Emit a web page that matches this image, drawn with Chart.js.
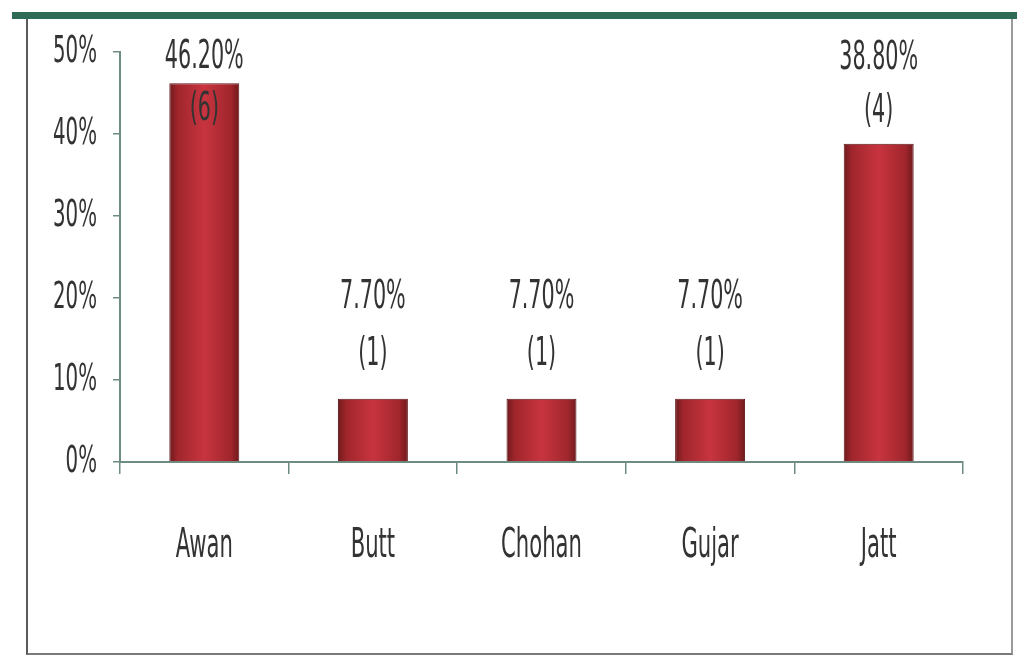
<!DOCTYPE html>
<html>
<head>
<meta charset="utf-8">
<script src="https://cdn.jsdelivr.net/npm/chart.js@4.4.0/dist/chart.umd.min.js"></script>
<style>
  html, body { margin: 0; padding: 0; background: #fff; }
  #wrap { position: relative; width: 1017px; height: 657px; overflow: hidden; background: #fff; }
  #topbar { position: absolute; left: 12px; top: 12px; width: 1005px; height: 7px; background: #2f6a55; }
  #frame { position: absolute; left: 26px; top: 19px; width: 983px; height: 634px;
           border-left: 2px solid #5a5a5a; border-bottom: 2px solid #7a7a7a; border-right: 2px solid #9a9a9a; }
  canvas { position: absolute; left: 0; top: 0; }
</style>
</head>
<body>
<div id="wrap">
  <div id="topbar"></div>
  <div id="frame"></div>
  <canvas id="c" width="1017" height="657"></canvas>
</div>
<script>
const categories = ["Awan", "Butt", "Chohan", "Gujar", "Jatt"];
const percentValues = [46.2, 7.7, 7.7, 7.7, 38.8];
const counts = [6, 1, 1, 1, 4];
const percentLabels = ["46.20%", "7.70%", "7.70%", "7.70%", "38.80%"];
const yTicks = [0, 10, 20, 30, 40, 50];

const TEXT = "#333333";
const AXIS = "#6e8c82";
const FONT = "'Liberation Sans Narrow', 'DejaVu Sans Condensed', 'Liberation Sans', sans-serif";
const STRETCH = 1.7;

const canvas = document.getElementById('c');
const ctx2d = canvas.getContext('2d');
// vertically stretch all text (reference uses tall condensed glyphs)
const origFill = ctx2d.fillText.bind(ctx2d);
ctx2d.fillText = function (t, x, y, mw) {
  this.save();
  this.translate(x, y);
  this.scale(1, STRETCH);
  if (mw === undefined) origFill(t, 0, 0); else origFill(t, 0, 0, mw);
  this.restore();
};

const BAR_PCT = 0.415;

function barGradient(context) {
  const chart = context.chart;
  const xs = chart.scales.x;
  if (!xs || !chart.chartArea) return '#c0303a';
  const cx = xs.getPixelForValue(context.dataIndex);
  const w = (xs.width / categories.length) * BAR_PCT;
  const g = chart.ctx.createLinearGradient(cx - w / 2, 0, cx + w / 2, 0);
  g.addColorStop(0, '#6e1a1c');
  g.addColorStop(0.12, '#a0262c');
  g.addColorStop(0.5, '#c8343f');
  g.addColorStop(0.88, '#a0262c');
  g.addColorStop(1, '#6e1a1c');
  return g;
}

// label offsets (px above bar top): [percent, count]
const labelStyle = {
  offsets: [[25, -27], [101, 44], [101, 44], [101, 44], [85, 32]]
};

const labelPlugin = {
  id: 'barLabels',
  afterDatasetsDraw(chart) {
    const ctx = chart.ctx;
    const meta = chart.getDatasetMeta(0);
    ctx.save();
    ctx.fillStyle = TEXT;
    ctx.font = "23px " + FONT;
    ctx.textAlign = 'center';
    ctx.textBaseline = 'middle';
    meta.data.forEach((bar, i) => {
      const off = labelStyle.offsets[i];
      ctx.fillText(percentLabels[i], bar.x, bar.y - off[0]);
      ctx.fillText('(' + counts[i] + ')', bar.x, bar.y - off[1]);
    });
    ctx.restore();
  }
};

new Chart(canvas, {
  type: 'bar',
  data: {
    labels: categories,
    datasets: [{
      data: percentValues,
      backgroundColor: barGradient,
      borderColor: '#5e1618',
      borderWidth: 1,
      barPercentage: BAR_PCT,
      categoryPercentage: 1.0
    }]
  },
  options: {
    responsive: false,
    animation: false,
    devicePixelRatio: 1,
    layout: { padding: { top: 52, right: 54, left: 0, bottom: 0 } },
    plugins: { legend: { display: false }, tooltip: { enabled: false } },
    scales: {
      x: {
        offset: true,
        grid: { display: true, offset: true, drawOnChartArea: false, drawTicks: true,
                tickLength: 12, color: AXIS, lineWidth: 1.5 },
        border: { display: true, color: AXIS, width: 2 },
        ticks: { color: TEXT, font: { family: FONT, size: 23.5 }, padding: 59 },
        afterFit(scale) { scale.height = 195; }
      },
      y: {
        min: 0, max: 50,
        afterBuildTicks(scale) { scale.ticks = yTicks.map(v => ({ value: v })); },
        grid: { display: true, drawOnChartArea: false, drawTicks: true, tickLength: 7,
                color: AXIS, lineWidth: 1.5 },
        border: { display: true, color: AXIS, width: 2 },
        ticks: { color: TEXT, font: { family: FONT, size: 22 }, padding: 16,
                 callback: v => v + '%' },
        afterFit(scale) { scale.width = 120; }
      }
    }
  },
  plugins: [labelPlugin]
});
</script>
</body>
</html>
